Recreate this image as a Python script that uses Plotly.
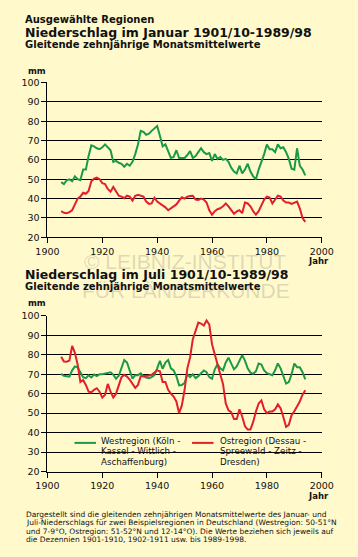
import plotly.graph_objects as go

W, H = 358, 557

years = list(range(1905, 1995))

jan_west = [48.5, 47.5, 49.5, 50, 49, 51.5, 50, 49.5, 55, 55,
            62, 67.5, 67, 66, 65.5, 66.5, 68, 66.5, 65, 59,
            59.5, 58.5, 58, 56.5, 58, 57, 59, 63, 68, 75,
            74.5, 73, 73.5, 75, 76.5, 77.5, 72.5, 67, 68, 64,
            61, 61.5, 65, 61, 61, 61, 62.5, 64.5, 61, 62,
            64, 66, 64, 63, 63.5, 59.5, 63, 60.5, 61.5, 60,
            60.5, 59, 56, 54, 53, 57, 53, 55, 58, 54,
            51.5, 50, 55, 58.5, 63, 68, 65.5, 65.5, 64, 68,
            66, 66.5, 64, 60.5, 55.5, 55, 66, 57, 55, 52]

jan_east = [33.5, 32.7, 32.5, 33, 34, 37, 40, 41, 43, 42.5,
            44, 49, 50.3, 50.8, 50, 48, 47.5, 45, 43.6, 46,
            44, 41.5, 41, 40.2, 41.5, 41, 39, 41.5, 42, 41.5,
            41, 38.5, 37.3, 37.5, 40.5, 38.5, 37.5, 36.5, 35.5, 34,
            35, 36, 37, 39, 40.7, 40, 41, 41.3, 41.5, 39.5,
            39.3, 40, 39.5, 38, 34, 31.7, 33.5, 34.5, 35, 36,
            37.5, 36, 34, 32.2, 33.4, 34, 32.5, 38, 37.5, 36,
            33.5, 31.7, 33.5, 37, 39.5, 41, 40.5, 37.5, 39.5, 41.5,
            41, 39, 38, 38, 37.3, 38, 38.5, 35, 30, 28]

jul_west = [70.2, 69.2, 69, 68.8, 72, 74, 73.5, 71, 68.5, 68,
            69.4, 68.3, 69.8, 69, 70, 70, 70.3, 70.7, 71, 69.8,
            67.7, 69.2, 73.5, 77.3, 76, 72, 67.7, 69.5, 69.5, 70.5,
            69, 68.3, 68, 68.5, 69.5, 73, 76.9, 72.7, 76, 77.3,
            73, 71.9, 69, 64.3, 64.5, 65.5, 70, 68.5, 70, 68,
            69, 70.5, 71.9, 71, 68.5, 67.7, 72.5, 75, 73, 72,
            76, 78.5, 75.5, 72.5, 74, 77, 79.8, 77, 73, 70.8,
            70.2, 71.5, 75.5, 75, 72, 70.5, 70, 69.5, 72, 75.5,
            73, 69, 65.2, 66, 70, 75.5, 73.6, 73.6, 71, 67.3]

jul_east = [79, 76.5, 76.4, 77, 84.5, 81, 75, 66, 67, 64.5,
            61, 60.7, 62, 62.8, 61, 58, 59.5, 65, 61, 58,
            60, 64.3, 68.5, 69.7, 68.8, 67.2, 65, 63, 64.5, 69,
            69, 69, 69.3, 69.7, 70.7, 72, 71.5, 66, 66, 62,
            60, 58.5, 56, 50, 54, 62, 73, 78.6, 88, 92,
            96.5, 96, 95, 97.6, 95.5, 85.4, 80, 74, 70, 65,
            55, 51.5, 50.5, 47, 47, 52, 48.3, 43.3, 41.6, 41.6,
            45.5, 50.8, 55, 56.5, 52, 50, 50.8, 50.8, 52, 54.5,
            52.5, 48, 43, 44, 49, 51, 53.4, 56, 59.5, 61.8]

x_ticks = [1900, 1920, 1940, 1960, 1980, 2000]
y_ticks = [20, 30, 40, 50, 60, 70, 80, 90, 100]

GREEN = "#1a9a48"
RED = "#e3202a"
BG = "#fff9cc"
FONT = "DejaVu Sans"

fig = go.Figure()
fig.add_trace(go.Scatter(x=years, y=jan_west, mode="lines", line=dict(color=GREEN, width=2),
                         xaxis="x", yaxis="y", showlegend=False))
fig.add_trace(go.Scatter(x=years, y=jan_east, mode="lines", line=dict(color=RED, width=2),
                         xaxis="x", yaxis="y", showlegend=False))
fig.add_trace(go.Scatter(x=years, y=jul_west, mode="lines", line=dict(color=GREEN, width=2),
                         xaxis="x2", yaxis="y2", showlegend=False))
fig.add_trace(go.Scatter(x=years, y=jul_east, mode="lines", line=dict(color=RED, width=2),
                         xaxis="x2", yaxis="y2", showlegend=False))

xdom = [38 / W, 332 / W]
ydom_top = [1 - 236 / H, 1 - 78 / H]
ydom_bot = [1 - 475 / H, 1 - 316 / H]

def xax(anchor):
    return dict(domain=xdom, range=[1900, 2000], anchor=anchor, tickmode="array",
                tickvals=x_ticks, ticks="outside", ticklen=5, tickcolor="black",
                showline=True, linecolor="black", linewidth=1, showgrid=False,
                zeroline=False, tickfont=dict(family=FONT, size=9.5, color="#111"))

def yax(anchor, dom):
    return dict(domain=dom, range=[20, 100], anchor=anchor, tickmode="array",
                tickvals=y_ticks, ticks="outside", ticklen=5, tickcolor="black",
                showline=True, linecolor="black", linewidth=1, showgrid=True,
                gridcolor="black", gridwidth=1, zeroline=False,
                tickfont=dict(family=FONT, size=9.5, color="#111"))

annotations = []

def txt(s, x, y, size, bold=False, color="#111", xanchor="left", family=FONT):
    if bold:
        s = "<b>" + s + "</b>"
    annotations.append(dict(text=s, x=x / W, y=1 - y / H, xref="paper", yref="paper",
                            xanchor=xanchor, yanchor="middle", showarrow=False,
                            font=dict(family=family, size=size, color=color)))

# watermark
WM = "rgba(120,120,110,0.25)"
WMF = "Liberation Sans, Arial"
txt("© LEIBNIZ-INSTITUT", 185, 261, 21, color=WM, xanchor="center", family=WMF)
txt("FÜR LÄNDERKUNDE", 187, 290, 21, color=WM, xanchor="center", family=WMF)

# titles top
txt("Ausgewählte Regionen", 12, 14, 10, bold=True)
txt("Niederschlag im Januar 1901/10-1989/98", 12, 27, 12.5, bold=True)
txt("Gleitende zehnjährige Monatsmittelwerte", 12, 39.5, 10, bold=True)
txt("mm", 15, 66.5, 8.5, bold=True)
txt("Jahr", 342, 260, 8.5, bold=True, xanchor="right")

# titles bottom
txt("Niederschlag im Juli 1901/10-1989/98", 12, 274, 12.5, bold=True)
txt("Gleitende zehnjährige Monatsmittelwerte", 12, 286, 10, bold=True)
txt("mm", 15, 302.5, 8.5, bold=True)
txt("Jahr", 342, 499.5, 8.5, bold=True, xanchor="right")

# legend
legend_west = ["Westregion (Köln -", "Kassel - Wittlich -", "Aschaffenburg)"]
legend_east = ["Ostregion (Dessau -", "Spreewald - Zeitz -", "Dresden)"]
for i, s in enumerate(legend_west):
    txt(s, 93.5, 443.5 + i * 10.6, 8.7)
for i, s in enumerate(legend_east):
    txt(s, 220.5, 443.5 + i * 10.6, 8.7)

shapes = [
    dict(type="line", xref="paper", yref="paper", x0=67 / W, x1=90 / W,
         y0=1 - 445.7 / H, y1=1 - 445.7 / H, line=dict(color=GREEN, width=2)),
    dict(type="line", xref="paper", yref="paper", x0=193 / W, x1=216 / W,
         y0=1 - 445.7 / H, y1=1 - 445.7 / H, line=dict(color=RED, width=2)),
]

# footnote
foot = [
    "Dargestellt sind die gleitenden zehnjährigen Monatsmittelwerte des Januar- und",
    "Juli-Niederschlags für zwei Beispielsregionen in Deutschland (Westregion: 50-51°N",
    "und 7-9°O, Ostregion: 51-52°N und 12-14°O). Die Werte beziehen sich jeweils auf",
    "die Dezennien 1901-1910, 1902-1911 usw. bis 1989-1998.",
]
for i, s in enumerate(foot):
    txt(s, 13, 519 + i * 8.4, 7.5)

fig.update_layout(
    width=W, height=H, autosize=False,
    margin=dict(l=0, r=0, t=0, b=0),
    paper_bgcolor=BG, plot_bgcolor=BG,
    xaxis=xax("y"), yaxis=yax("x", ydom_top),
    xaxis2=xax("y2"), yaxis2=yax("x2", ydom_bot),
    annotations=annotations, shapes=shapes,
    showlegend=False,
)

fig.write_html("out.html", config={"displayModeBar": False},
               post_script="document.body.style.margin='0';document.body.style.padding='0';"
                           "document.body.style.background='" + BG + "';")
